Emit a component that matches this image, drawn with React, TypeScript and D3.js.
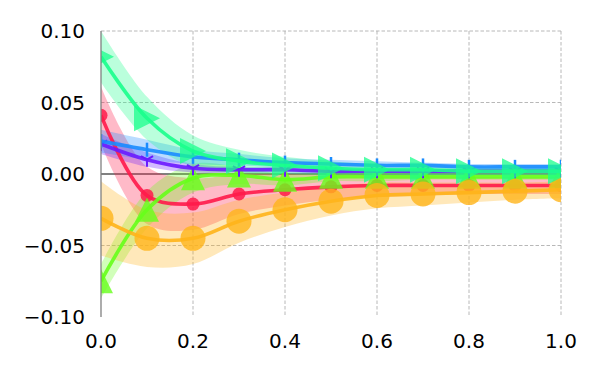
import React from 'react';
import * as d3 from 'd3';

const xs = [0, 0.1, 0.2, 0.3, 0.4, 0.5, 0.6, 0.7, 0.8, 0.9, 1.0];

const springMean = [0.082, 0.039, 0.016, 0.009, 0.006, 0.004, 0.003, 0.003, 0.002, 0.002, 0.002];
const springSpread = [0.018, 0.015, 0.011, 0.008, 0.006, 0.005, 0.004, 0.004, 0.003, 0.003, 0.003];
const blueMean = [0.023, 0.017, 0.012, 0.010, 0.008, 0.007, 0.006, 0.006, 0.005, 0.005, 0.005];
const blueSpread = [0.008, 0.007, 0.005, 0.004, 0.003, 0.003, 0.003, 0.002, 0.002, 0.002, 0.002];
const purpleMean = [0.021, 0.010, 0.004, 0.003, 0.003, 0.002, 0.002, 0.002, 0.002, 0.002, 0.002];
const purpleSpread = [0.007, 0.005, 0.003, 0.002, 0.002, 0.002, 0.001, 0.001, 0.001, 0.001, 0.001];
const redMean = [0.041, -0.015, -0.021, -0.014, -0.011, -0.009, -0.008, -0.008, -0.008, -0.008, -0.008];
const redSpread = [0.020, 0.020, 0.018, 0.014, 0.011, 0.009, 0.008, 0.007, 0.006, 0.006, 0.006];
const orangeMean = [-0.031, -0.045, -0.045, -0.033, -0.025, -0.019, -0.015, -0.014, -0.013, -0.012, -0.011];
const orangeSpread = [0.026, 0.020, 0.018, 0.015, 0.012, 0.010, 0.009, 0.008, 0.007, 0.006, 0.006];
const greenMean = [-0.075, -0.025, -0.003, -0.001, -0.004, -0.002, -0.002, -0.002, -0.002, -0.002, -0.002];
const greenSpread = [0.012, 0.013, 0.010, 0.006, 0.004, 0.003, 0.003, 0.002, 0.002, 0.002, 0.002];

const xTicks = [0, 0.2, 0.4, 0.6, 0.8, 1.0];
const yTicks = [-0.1, -0.05, 0, 0.05, 0.1];

// draw order: first is at the bottom
const series = [
  { name: 'red', color: '#ff1a4a', mean: redMean, spread: redSpread, marker: 'smallCircle' },
  { name: 'green', color: '#66ff1a', mean: greenMean, spread: greenSpread, marker: 'triUp' },
  { name: 'purple', color: '#6a1aff', mean: purpleMean, spread: purpleSpread, marker: 'tri' },
  { name: 'blue', color: '#1a8cff', mean: blueMean, spread: blueSpread, marker: 'vline' },
  { name: 'orange', color: '#ffb41a', mean: orangeMean, spread: orangeSpread, marker: 'bigCircle' },
  { name: 'spring', color: '#1aff8c', mean: springMean, spread: springSpread, marker: 'triRight' },
];

const fmt = (v) => {
  const s = d3.format('.2f')(Math.abs(v));
  return v < 0 ? '\u2212' + s : s;
};

const Marker = ({ type, cx, cy, color }) => {
  if (type === 'smallCircle') return <circle cx={cx} cy={cy} r={6.5} fill={color} fillOpacity={0.85} />;
  if (type === 'bigCircle') return <circle cx={cx} cy={cy} r={12.5} fill={color} fillOpacity={0.8} />;
  if (type === 'triRight') {
    const h = 13;
    return <path d={`M${cx + h},${cy}L${cx - h},${cy - h}L${cx - h},${cy + h}Z`} fill={color} fillOpacity={0.75} />;
  }
  if (type === 'triUp') {
    const h = 12;
    return <path d={`M${cx},${cy - h}L${cx + h},${cy + h}L${cx - h},${cy + h}Z`} fill={color} fillOpacity={0.8} />;
  }
  if (type === 'vline') {
    return <line x1={cx} x2={cx} y1={cy - 7} y2={cy + 7} stroke={color} strokeWidth={2.5} />;
  }
  // tri marker
  const r = 7;
  return (
    <g stroke={color} strokeWidth={2}>
      {[90, 210, 330].map((a) => (
        <line key={a} x1={cx} y1={cy}
          x2={cx + r * Math.cos((a * Math.PI) / 180)}
          y2={cy + r * Math.sin((a * Math.PI) / 180)} />
      ))}
    </g>
  );
};

export default function App() {
  const width = 600, height = 375;
  const margin = { top: 31, right: 39, bottom: 58, left: 101 };
  const innerW = width - margin.left - margin.right;
  const innerH = height - margin.top - margin.bottom;

  const x = d3.scaleLinear().domain([0, 1]).range([0, innerW]);
  const y = d3.scaleLinear().domain([-0.1, 0.1]).range([innerH, 0]);

  const curve = d3.curveCatmullRom.alpha(0.5);
  const line = d3.line<number>().x((_, i) => x(xs[i])).y((d) => y(d)).curve(curve);

  return (
    <svg width={width} height={height} style={{ position: 'absolute', left: 0, top: 0 }}
      fontFamily="DejaVu Sans, sans-serif">
      <defs>
        <clipPath id="plot-clip">
          <rect x={0} y={0} width={innerW} height={innerH} />
        </clipPath>
      </defs>
      <g transform={`translate(${margin.left},${margin.top})`}>
        {xTicks.filter((t) => t > 0).map((t) => (
          <line key={`gx-${t}`} x1={x(t)} x2={x(t)} y1={0} y2={innerH}
            stroke="#b0b0b0" strokeWidth={0.9} strokeDasharray="3.5,2" />
        ))}
        {yTicks.filter((t) => t !== 0 && t > -0.1).map((t) => (
          <line key={`gy-${t}`} x1={0} x2={innerW} y1={y(t)} y2={y(t)}
            stroke="#b0b0b0" strokeWidth={0.9} strokeDasharray="3.5,2" />
        ))}
        <line x1={0} x2={innerW} y1={y(0)} y2={y(0)} stroke="#808080" strokeWidth={2} />
        <g clipPath="url(#plot-clip)">
          {series.map((s) => {
            const area = d3.area<number>()
              .x((_, i) => x(xs[i]))
              .y0((d, i) => y(d - s.spread[i]))
              .y1((d, i) => y(d + s.spread[i]))
              .curve(curve);
            return <path key={`band-${s.name}`} d={area(s.mean) || ''} fill={s.color} fillOpacity={0.3} />;
          })}
          {series.map((s) => (
            <g key={`series-${s.name}`}>
              <path d={line(s.mean) || ''} fill="none" stroke={s.color} strokeWidth={3.6} strokeOpacity={0.9} />
              {s.mean.map((v, i) => (
                <Marker key={i} type={s.marker} cx={x(xs[i])} cy={y(v)} color={s.color} />
              ))}
            </g>
          ))}
        </g>
        <line x1={0} x2={0} y1={0} y2={innerH} stroke="#808080" strokeWidth={1.3} />
        {yTicks.map((t) => (
          <text key={`yl-${t}`} x={-16} y={y(t)} dy="0.36em" textAnchor="end" fontSize={20} fill="#000">
            {fmt(t)}
          </text>
        ))}
        {xTicks.map((t) => (
          <text key={`xl-${t}`} x={x(t)} y={innerH + 24} dy="0.36em" textAnchor="middle" fontSize={20} fill="#000">
            {d3.format('.1f')(t)}
          </text>
        ))}
      </g>
    </svg>
  );
}
